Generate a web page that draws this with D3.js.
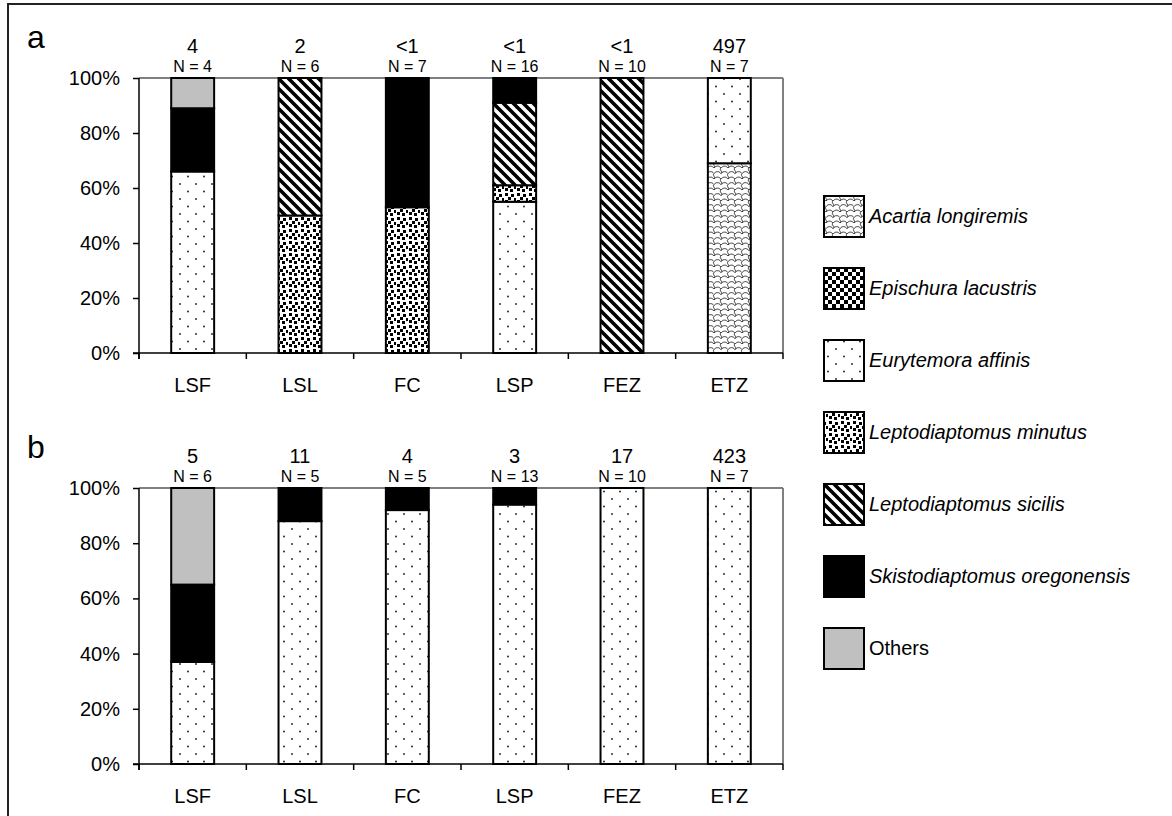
<!DOCTYPE html>
<html><head><meta charset="utf-8">
<script src="https://cdn.jsdelivr.net/npm/d3@7"></script>
<style>body{margin:0;background:#fff}svg{display:block;font-family:"Liberation Sans",Arial,sans-serif}</style>
</head><body><svg id="c" width="1172" height="816"></svg>
<script>
const categories = ["LSF","LSL","FC","LSP","FEZ","ETZ"];
const species = ["Acartia longiremis","Epischura lacustris","Eurytemora affinis","Leptodiaptomus minutus","Leptodiaptomus sicilis","Skistodiaptomus oregonensis","Others"];
// panel a percentages per species (order of categories)
const aAcartia    = [0,0,0,0,0,69];
const aEpischura  = [0,0,0,0,0,0];
const aEurytemora = [66,0,0,55,0,31];
const aMinutus    = [0,50,53,6,0,0];
const aSicilis    = [0,50,0,30,100,0];
const aSkisto     = [23,0,47,9,0,0];
const aOthers     = [11,0,0,0,0,0];
const aTop = ["4","2","<1","<1","<1","497"];
const aN   = [4,6,7,16,10,7];
// panel b
const bAcartia    = [0,0,0,0,0,0];
const bEpischura  = [0,0,0,0,0,0];
const bEurytemora = [37,88,92,94,100,100];
const bMinutus    = [0,0,0,0,0,0];
const bSicilis    = [0,0,0,0,0,0];
const bSkisto     = [28,12,8,6,0,0];
const bOthers     = [35,0,0,0,0,0];
const bTop = ["5","11","4","3","17","423"];
const bN   = [6,5,5,13,10,7];
const yTicks = [0,20,40,60,80,100];

const fills = ["url(#pAcartia)","url(#pCheck)","url(#pDots)","url(#pConfetti)","url(#pStripe)","#000","#c0c0c0"];

const svg = d3.select("#c");
const defs = svg.append("defs");
function pat(id,w,h){const p=defs.append("pattern").attr("id",id).attr("patternUnits","userSpaceOnUse").attr("width",w).attr("height",h);p.append("rect").attr("width",w).attr("height",h).attr("fill","#fff");return p;}
{const p=pat("pDots",16,15);
 p.append("circle").attr("cx",4).attr("cy",4).attr("r",0.95).attr("fill","#222");
 p.append("circle").attr("cx",12).attr("cy",11.5).attr("r",0.95).attr("fill","#222");}
{const p=pat("pConfetti",12,12);
 [[1,1],[7,2],[4,5],[10,6],[1,8],[6,9]].forEach(([x,y])=>p.append("rect").attr("x",x).attr("y",y).attr("width",3).attr("height",3).attr("fill","#000"));}
{const p=pat("pCheck",8,8);
 p.append("rect").attr("x",0).attr("y",0).attr("width",4).attr("height",4).attr("fill","#000");
 p.append("rect").attr("x",4).attr("y",4).attr("width",4).attr("height",4).attr("fill","#000");}
{const p=pat("pStripe",10,10);
 p.append("path").attr("d","M-3,-3L13,13M-3,7L3,13M7,-3L13,3").attr("stroke","#000").attr("stroke-width",3.6);}
{const p=pat("pAcartia",14,11);
 p.append("path").attr("d",
   "M0,3 C2,0.5 5,0.5 7,3 M7,8.5 C9,6 12,6 14,8.5 M-7,8.5 C-5,6 -2,6 0,8.5 M7,3 C4.5,4.5 9.5,7 7,8.5 M0,-2.5 C-2.5,-1 2.5,1.5 0,3 M14,-2.5 C11.5,-1 16.5,1.5 14,3 M0,8.5 C-2,10 2,12.5 0,14 M14,8.5 C12,10 16,12.5 14,14 M7,3 C9,0.5 12,0.5 14,3 M0,8.5 C2,6 5,6 7,8.5")
  .attr("fill","none").attr("stroke","#333").attr("stroke-width",1);}

// frame
svg.append("rect").attr("x",8).attr("y",4).attr("width",1200).attr("height",900).attr("fill","none").attr("stroke","#222").attr("stroke-width",2);

const x = d3.scaleBand().domain(categories).range([139,783]).paddingInner(0.6).paddingOuter(0.3);

function panel(letter, top, bottom, series, topLabels, nLabels){
  const y = d3.scaleLinear().domain([0,100]).range([bottom,top]);
  const g = svg.append("g");
  g.append("line").attr("x1",139).attr("x2",783).attr("y1",y(100)).attr("y2",y(100)).attr("stroke","#808080").attr("stroke-width",2);
  g.append("line").attr("x1",783).attr("x2",783).attr("y1",y(100)).attr("y2",y(0)).attr("stroke","#808080").attr("stroke-width",2);
  const rows = categories.map((c,i)=>{const o={cat:c};species.forEach((s,k)=>o[s]=series[k][i]);return o;});
  const stack = d3.stack().keys(species)(rows);
  stack.forEach((layer,k)=>{
    g.append("g").selectAll("rect").data(layer.filter(d=>d[1]-d[0]>0)).join("rect")
     .attr("x",d=>x(d.data.cat)).attr("width",x.bandwidth())
     .attr("y",d=>y(d[1])).attr("height",d=>y(d[0])-y(d[1]))
     .attr("fill",fills[k]).attr("stroke","#000").attr("stroke-width",2);
  });
  const ya = g.append("g").attr("transform","translate(139,0)")
    .call(d3.axisLeft(y).tickValues(yTicks).tickFormat(d=>d+"%").tickSize(6).tickPadding(13));
  ya.select(".domain").remove();
  ya.selectAll("line").attr("stroke","#000").attr("stroke-width",1.5);
  ya.selectAll("text").attr("font-size",20).attr("fill","#000").attr("font-family","Liberation Sans, Arial, sans-serif");
  g.append("line").attr("x1",139).attr("x2",139).attr("y1",y(100)).attr("y2",y(0)+6).attr("stroke","#000").attr("stroke-width",1.5);
  g.append("line").attr("x1",133).attr("x2",783).attr("y1",y(0)).attr("y2",y(0)).attr("stroke","#000").attr("stroke-width",1.5);
  const step = x.step(), x0 = x.range()[0];
  g.append("g").selectAll("line").data(d3.range(categories.length+1)).join("line")
    .attr("x1",i=>x0+i*step).attr("x2",i=>x0+i*step).attr("y1",y(0)).attr("y2",y(0)+6).attr("stroke","#000").attr("stroke-width",1.5);
  g.append("g").selectAll("text").data(categories).join("text")
    .attr("x",c=>x(c)+x.bandwidth()/2).attr("y",y(0)+39).attr("text-anchor","middle").attr("font-size",20).text(c=>c);
  g.append("g").selectAll("text").data(categories).join("text")
    .attr("x",c=>x(c)+x.bandwidth()/2).attr("y",y(100)-25).attr("text-anchor","middle").attr("font-size",20).text((c,i)=>topLabels[i]);
  g.append("g").selectAll("text").data(categories).join("text")
    .attr("x",c=>x(c)+x.bandwidth()/2).attr("y",y(100)-6).attr("text-anchor","middle").attr("font-size",16).text((c,i)=>"N = "+nLabels[i]);
  g.append("text").attr("x",27).attr("y",top-30).attr("font-size",32).text(letter);
}
panel("a",78,353,[aAcartia,aEpischura,aEurytemora,aMinutus,aSicilis,aSkisto,aOthers],aTop,aN);
panel("b",488,764,[bAcartia,bEpischura,bEurytemora,bMinutus,bSicilis,bSkisto,bOthers],bTop,bN);

const ly = d3.scalePoint().domain(species).range([216,648]);
const lg = svg.append("g");
lg.selectAll("rect").data(species).join("rect")
  .attr("x",824).attr("y",s=>ly(s)-20).attr("width",40).attr("height",41)
  .attr("fill",(s,k)=>fills[k]).attr("stroke","#000").attr("stroke-width",2);
lg.selectAll("text").data(species).join("text")
  .attr("x",869).attr("y",s=>ly(s)+7).attr("font-size",20)
  .attr("font-style",s=>s==="Others"?"normal":"italic").text(s=>s);
</script></body></html>
